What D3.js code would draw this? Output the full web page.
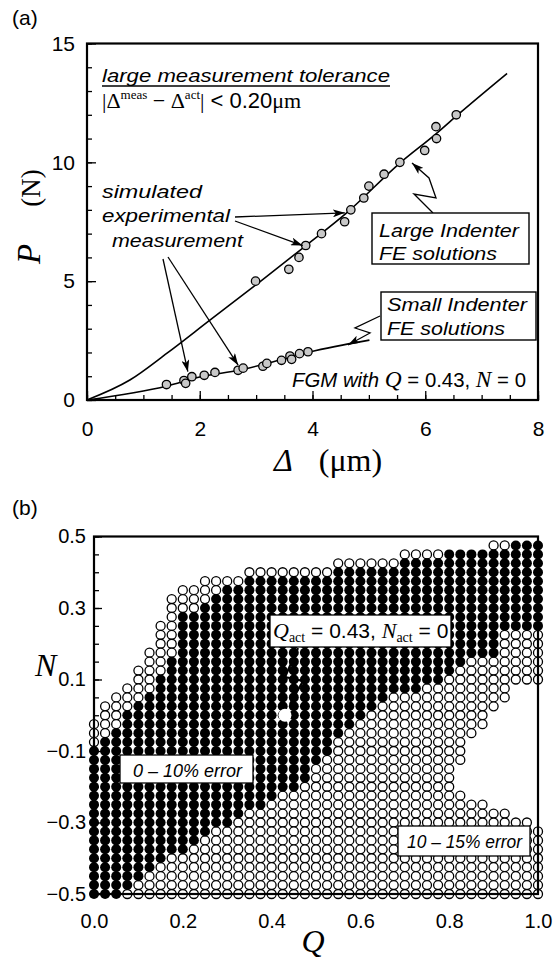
<!DOCTYPE html>
<html><head><meta charset="utf-8">
<script src="https://cdn.jsdelivr.net/npm/d3@7"></script>
<style>body{margin:0;background:#fff}svg{display:block}</style>
</head><body>
<svg id="chart" width="559" height="964"></svg>
<script>
// ---------- Panel (a): load–displacement ----------
const deltaTicks = [0, 2, 4, 6, 8];
const loadTicks = [0, 5, 10, 15];

// FE solution curves (Δ in µm, P in N)
const largeFeDelta = [0, 0.76, 1.42, 2.18, 3.06, 3.89, 4.60, 5.54, 6.19, 6.60, 7.45];
const largeFeLoad  = [0, 0.84, 1.97, 3.36, 4.96, 6.51, 7.86, 9.95, 11.2, 12.05, 13.74];
const smallFeDelta = [0, 1.42, 2.00, 2.71, 3.42, 3.95, 5.01];
const smallFeLoad  = [0, 0.59, 0.97, 1.26, 1.68, 2.02, 2.52];

// simulated measurements
const largeMeasDelta = [2.99, 3.58, 3.76, 3.88, 4.16, 4.57, 4.68, 4.91, 5.00, 5.27, 5.55, 5.99, 6.20, 6.19, 6.55];
const largeMeasLoad  = [5.0, 5.5, 6.0, 6.5, 7.0, 7.5, 8.0, 8.5, 9.0, 9.5, 10.0, 10.5, 11.0, 11.5, 12.0];
const smallMeasDelta = [1.41, 1.72, 1.75, 1.86, 2.08, 2.27, 2.68, 2.77, 3.12, 3.19, 3.45, 3.60, 3.63, 3.77, 3.92];
const smallMeasLoad  = [0.65, 0.82, 0.70, 0.98, 1.04, 1.16, 1.25, 1.34, 1.42, 1.54, 1.67, 1.85, 1.71, 1.95, 2.03];

// ---------- Panel (b): (Q, N) error map ----------
const qTicks = [0, 0.2, 0.4, 0.6, 0.8, 1.0];
const nTicks = [0.5, 0.3, 0.1, -0.1, -0.3, -0.5];
const gridQStep = 0.025;   // column k  -> Q = k * step
const gridNStep = 0.025;   // row j     -> N = 0.5 - j * step
const gridCols = 41, gridRows = 41;
// per column: first row with a circle, first/last filled row, last row with a circle
const openTop    = [21,19,18,17,15,13,10,7,6,6,5,5,5,5,4,4,4,4,4,4,4,4,3,3,3,3,3,3,2,2,2,2,2,2,2,2,1,1,1,1,1];
const fillTop    = [24,23,22,20,19,18,16,14,9,9,8,7,6,6,5,5,5,5,5,5,5,5,4,4,4,4,4,4,3,3,3,3,2,2,2,2,2,2,1,1,1];
const fillBottom = [40,40,40,39,38,37,36,35,35,34,33,32,32,31,30,30,29,28,28,27,25,24,22,21,20,19,18,17,17,17,16,16,15,14,13,13,13,10,10,10,10];
const openBottom = [40,40,40,40,40,40,40,40,40,40,40,40,40,40,40,40,40,40,40,40,40,40,40,40,40,40,40,40,40,40,40,40,40,40,40,40,40,40,40,40,40];
// per row: last column that holds a circle
const rowRight = [40,40,40,40,40,40,40,40,40,40,40,40,40,40,40,40,40,37,37,36,35,35,34,33,33,33,32,32,32,33,35,37,39,40,40,40,40,40,40,40,40];
const actualQ = 0.43, actualN = 0;

const SANS = "'Liberation Sans', Arial, Helvetica, sans-serif";
const SERIF = "'Liberation Serif', 'Times New Roman', serif";

const svg = d3.select("#chart");
svg.append("rect").attr("width", 559).attr("height", 964).attr("fill", "#fff");

const defs = svg.append("defs");
defs.append("marker").attr("id", "head").attr("viewBox", "0 0 12 8")
  .attr("refX", 12).attr("refY", 4).attr("markerWidth", 12).attr("markerHeight", 8)
  .attr("markerUnits", "userSpaceOnUse").attr("orient", "auto")
  .append("path").attr("d", "M0,0 L12,4 L0,8 L3,4 Z").attr("fill", "#000");

function addText(parent, o) {
  const t = parent.append("text")
    .attr("x", o.x).attr("y", o.y)
    .attr("font-family", o.serif ? SERIF : SANS)
    .attr("font-size", o.size)
    .attr("font-style", o.italic ? "italic" : "normal")
    .attr("text-anchor", o.anchor || "start")
    .attr("fill", "#000");
  if (o.text !== undefined) t.text(o.text);
  if (o.width) t.attr("textLength", o.width).attr("lengthAdjust", "spacingAndGlyphs");
  return t;
}
function span(t, str, o = {}) {
  const s = t.append("tspan").text(str)
    .attr("font-family", o.serif ? SERIF : SANS)
    .attr("font-style", o.italic ? "italic" : "normal");
  if (o.size) s.attr("font-size", o.size);
  if (o.dy) s.attr("dy", o.dy);
  if (o.dx) s.attr("dx", o.dx);
  return s;
}

// ================= Panel (a) =================
const xa = d3.scaleLinear().domain([0, 8]).range([87, 538]);
const ya = d3.scaleLinear().domain([0, 15]).range([400, 43.5]);
const ga = svg.append("g");

// axes (ticks point inward)
ga.append("g").attr("transform", "translate(0,400)")
  .call(d3.axisBottom(xa).tickValues(d3.range(0, 8.01, 0.5)).tickSize(-5).tickFormat(""))
  .call(g => g.select(".domain").remove());
ga.append("g").attr("transform", "translate(0,400)")
  .call(d3.axisBottom(xa).tickValues(deltaTicks).tickSize(-9).tickPadding(21).tickFormat(d3.format("d")))
  .call(g => g.select(".domain").remove());
ga.append("g").attr("transform", "translate(87,0)")
  .call(d3.axisLeft(ya).tickValues(d3.range(0, 15.01, 1)).tickSize(-5).tickFormat(""))
  .call(g => g.select(".domain").remove());
ga.append("g").attr("transform", "translate(87,0)")
  .call(d3.axisLeft(ya).tickValues(loadTicks).tickSize(-9).tickPadding(12).tickFormat(d3.format("d")))
  .call(g => g.select(".domain").remove());
ga.selectAll(".tick line").attr("stroke", "#000").attr("stroke-width", 1.3);
ga.selectAll(".tick text").attr("font-family", SANS).attr("font-size", 21).attr("fill", "#000");

ga.append("rect").attr("x", 87).attr("y", 43.5).attr("width", 451).attr("height", 356.5)
  .attr("fill", "none").attr("stroke", "#000").attr("stroke-width", 2.2);

// FE curves
const lineA = d3.line().x(d => xa(d[0])).y(d => ya(d[1])).curve(d3.curveMonotoneX);
ga.append("path").datum(d3.zip(largeFeDelta, largeFeLoad)).attr("d", lineA)
  .attr("fill", "none").attr("stroke", "#000").attr("stroke-width", 1.6);
ga.append("path").datum(d3.zip(smallFeDelta, smallFeLoad)).attr("d", lineA)
  .attr("fill", "none").attr("stroke", "#000").attr("stroke-width", 1.6);

// measurements
const meas = d3.zip(largeMeasDelta, largeMeasLoad).concat(d3.zip(smallMeasDelta, smallMeasLoad));
ga.selectAll("circle.meas").data(meas).join("circle").attr("class", "meas")
  .attr("cx", d => xa(d[0])).attr("cy", d => ya(d[1])).attr("r", 4.2)
  .attr("fill", "#c8c8c8").attr("stroke", "#000").attr("stroke-width", 1.3);

// pointer arrows from the "simulated experimental measurement" note
const arrowsA = [
  [[235, 217], [xa(largeMeasDelta[6]) - 6, ya(largeMeasLoad[6]) + 3]],
  [[235, 221], [xa(largeMeasDelta[3]) - 3, ya(largeMeasLoad[3])]],
  [[163, 259], [xa(smallMeasDelta[3]) - 4, ya(smallMeasLoad[3]) - 5]],
  [[168, 257], [xa(smallMeasDelta[7]) - 5, ya(smallMeasLoad[7]) - 3]]
];
arrowsA.forEach(a => ga.append("line")
  .attr("x1", a[0][0]).attr("y1", a[0][1]).attr("x2", a[1][0]).attr("y2", a[1][1])
  .attr("stroke", "#000").attr("stroke-width", 1.3).attr("marker-end", "url(#head)"));

// zig-zag leaders from the boxes to the curves
ga.append("path").attr("d", "M433,213 L414,194 L436,198 L429,178 L412,163")
  .attr("fill", "none").attr("stroke", "#000").attr("stroke-width", 1.3).attr("marker-end", "url(#head)");
ga.append("path").attr("d", "M380,316 L355,328 L370,333 L348,345")
  .attr("fill", "none").attr("stroke", "#000").attr("stroke-width", 1.3).attr("marker-end", "url(#head)");

// boxes
ga.append("rect").attr("x", 372).attr("y", 213).attr("width", 157).attr("height", 51)
  .attr("fill", "#fff").attr("stroke", "#000").attr("stroke-width", 1.4);
ga.append("rect").attr("x", 381).attr("y", 292).attr("width", 155).attr("height", 48)
  .attr("fill", "#fff").attr("stroke", "#000").attr("stroke-width", 1.4);
addText(ga, {x: 379, y: 237, text: "Large Indenter", size: 19, italic: true, width: 140});
addText(ga, {x: 379, y: 260, text: "FE solutions", size: 19, italic: true, width: 118});
addText(ga, {x: 387, y: 311, text: "Small Indenter", size: 19, italic: true, width: 140});
addText(ga, {x: 387, y: 335, text: "FE solutions", size: 19, italic: true, width: 118});

// annotations
addText(ga, {x: 102, y: 82, text: "large measurement tolerance", size: 19, italic: true, width: 288});
ga.append("line").attr("x1", 102).attr("x2", 390).attr("y1", 86).attr("y2", 86)
  .attr("stroke", "#000").attr("stroke-width", 1.4);
const tl = addText(ga, {x: 102, y: 108, size: 22});
span(tl, "|Δ", {serif: true});
span(tl, "meas", {serif: true, size: 13, dy: -9});
span(tl, " − ", {serif: true, dy: 9});
span(tl, "Δ", {serif: true});
span(tl, "act", {serif: true, size: 13, dy: -9});
span(tl, "|", {serif: true, dy: 9});
span(tl, " < 0.20");
span(tl, "μm", {serif: true});

addText(ga, {x: 102, y: 198, text: "simulated", size: 19, italic: true, width: 100});
addText(ga, {x: 102, y: 222, text: "experimental", size: 19, italic: true, width: 128});
addText(ga, {x: 112, y: 247, text: "measurement", size: 19, italic: true, width: 131});

const fgm = addText(ga, {x: 292, y: 387, size: 20, width: 234});
span(fgm, "FGM with ", {italic: true});
span(fgm, "Q", {serif: true, italic: true, size: 23});
span(fgm, " = 0.43, ");
span(fgm, "N", {serif: true, italic: true, size: 23});
span(fgm, " = 0");

// axis titles
addText(ga, {x: 12, y: 25, text: "(a)", size: 21});
const xt = addText(ga, {x: 274, y: 471, size: 32, serif: true});
span(xt, "Δ", {serif: true, italic: true});
span(xt, "(μm)", {serif: true, dx: 26});
const yt = ga.append("text").attr("transform", "translate(40,264) rotate(-90)")
  .attr("font-family", SERIF).attr("font-size", 30).attr("fill", "#000");
span(yt, "P", {serif: true, italic: true, size: 33});
span(yt, "(N)", {serif: true, size: 27, dx: 37});

// ================= Panel (b) =================
const xb = d3.scaleLinear().domain([0, 1]).range([94, 538]);
const yb = d3.scaleLinear().domain([-0.5, 0.5]).range([894, 536.5]);
const gb = svg.append("g");

gb.append("g").attr("transform", "translate(0,894)")
  .call(d3.axisBottom(xb).tickValues(d3.range(0, 1.001, 0.05)).tickSize(-5).tickFormat(""))
  .call(g => g.select(".domain").remove());
gb.append("g").attr("transform", "translate(0,894)")
  .call(d3.axisBottom(xb).tickValues(qTicks).tickSize(-8).tickPadding(20).tickFormat(d3.format(".1f")))
  .call(g => g.select(".domain").remove());
gb.append("g").attr("transform", "translate(94,0)")
  .call(d3.axisLeft(yb).tickValues(d3.range(-0.5, 0.501, 0.05)).tickSize(-5).tickFormat(""))
  .call(g => g.select(".domain").remove());
gb.append("g").attr("transform", "translate(94,0)")
  .call(d3.axisLeft(yb).tickValues(nTicks).tickSize(-8).tickPadding(8).tickFormat(d3.format(".1f")))
  .call(g => g.select(".domain").remove());
gb.selectAll(".tick line").attr("stroke", "#000").attr("stroke-width", 1.3);
gb.selectAll(".tick text").attr("font-family", SANS).attr("font-size", 20).attr("fill", "#000");

// grid of candidate (Q, N) pairs
const cells = [];
for (let k = 0; k < gridCols; k++) {
  for (let j = openTop[k]; j <= openBottom[k]; j++) {
    if (k > rowRight[j]) continue;
    const filled = j >= fillTop[k] && j <= fillBottom[k];
    cells.push({q: k * gridQStep, n: 0.5 - j * gridNStep, filled});
  }
}
gb.selectAll("circle.open").data(cells.filter(c => !c.filled)).join("circle").attr("class", "open")
  .attr("cx", d => xb(d.q)).attr("cy", d => yb(d.n)).attr("r", 4.5)
  .attr("fill", "#fff").attr("stroke", "#000").attr("stroke-width", 1.3);
gb.selectAll("circle.fill").data(cells.filter(c => c.filled)).join("circle").attr("class", "fill")
  .attr("cx", d => xb(d.q)).attr("cy", d => yb(d.n)).attr("r", 5)
  .attr("fill", "#000");

gb.append("rect").attr("x", 94).attr("y", 536.5).attr("width", 444).attr("height", 357.5)
  .attr("fill", "none").attr("stroke", "#000").attr("stroke-width", 2.2);

// actual parameters and the pointer from its label
gb.append("path").attr("d", "M298,648 L285,677 L303,681 L290,704")
  .attr("fill", "none").attr("stroke", "#000").attr("stroke-width", 2.2);
gb.append("circle").attr("cx", xb(actualQ)).attr("cy", yb(actualN)).attr("r", 6.5).attr("fill", "#fff");

// labels inside the map
gb.append("rect").attr("x", 270).attr("y", 615).attr("width", 181).attr("height", 32)
  .attr("fill", "#fff").attr("stroke", "#000").attr("stroke-width", 1.3);
const qa = addText(gb, {x: 273, y: 638, size: 21});
span(qa, "Q", {serif: true, italic: true, size: 22});
span(qa, "act", {serif: true, size: 14, dy: 4});
span(qa, " = 0.43, ", {dy: -4});
span(qa, "N", {serif: true, italic: true, size: 22});
span(qa, "act", {serif: true, size: 14, dy: 4});
span(qa, " = 0", {dy: -4});

gb.append("rect").attr("x", 120).attr("y", 755).attr("width", 133).attr("height", 28)
  .attr("fill", "#fff").attr("stroke", "#000").attr("stroke-width", 1.3);
addText(gb, {x: 133, y: 777, text: "0 – 10% error", size: 18, italic: true, width: 109});

gb.append("rect").attr("x", 398).attr("y", 826).attr("width", 132).attr("height", 30)
  .attr("fill", "#fff").attr("stroke", "#000").attr("stroke-width", 1.3);
addText(gb, {x: 407, y: 848, text: "10 – 15% error", size: 18, italic: true, width: 115});

addText(gb, {x: 12, y: 515, text: "(b)", size: 21});
addText(gb, {x: 35, y: 676, text: "N", size: 32, serif: true, italic: true});
addText(gb, {x: 313, y: 952, text: "Q", size: 32, serif: true, italic: true, anchor: "middle"});
</script>
</body></html>
